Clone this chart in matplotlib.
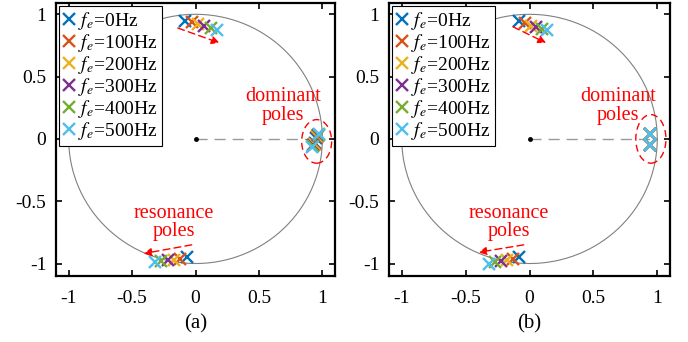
import matplotlib
matplotlib.use('Agg')
import matplotlib.pyplot as plt
from matplotlib.patches import Ellipse
import numpy as np

plt.rcParams['font.family'] = ['Liberation Serif', 'DejaVu Serif']
plt.rcParams['mathtext.fontset'] = 'stix'

labels = ['$f_e$=0Hz', '$f_e$=100Hz', '$f_e$=200Hz', '$f_e$=300Hz', '$f_e$=400Hz', '$f_e$=500Hz']
colors = ['#0072BD', '#D95319', '#EDB120', '#7E2F8E', '#77AC30', '#4DBEEE']

# panel (a) poles
a_up_re = [-0.08, -0.03, 0.02, 0.07, 0.12, 0.17]
a_up_im = [0.95, 0.94, 0.92, 0.91, 0.89, 0.87]
a_lo_re = [-0.07, -0.12, -0.17, -0.22, -0.27, -0.32]
a_lo_im = [-0.95, -0.96, -0.97, -0.97, -0.98, -0.99]
a_d1_re = [0.950, 0.955, 0.960, 0.965, 0.970, 0.975]
a_d1_im = [0.010, 0.016, 0.022, 0.028, 0.034, 0.040]
a_d2_re = [0.945, 0.940, 0.935, 0.930, 0.925, 0.920]
a_d2_im = [-0.030, -0.037, -0.044, -0.051, -0.058, -0.065]

# panel (b) poles
b_up_re = [-0.08, -0.035, 0.01, 0.05, 0.10, 0.14]
b_up_im = [0.95, 0.93, 0.91, 0.90, 0.88, 0.87]
b_lo_re = [-0.08, -0.13, -0.18, -0.22, -0.27, -0.32]
b_lo_im = [-0.95, -0.96, -0.97, -0.98, -0.99, -1.00]
b_d1_re = [0.945, 0.945, 0.945, 0.945, 0.945, 0.945]
b_d1_im = [0.04, 0.04, 0.04, 0.04, 0.04, 0.04]
b_d2_re = [0.945, 0.945, 0.945, 0.945, 0.945, 0.945]
b_d2_im = [-0.05, -0.05, -0.05, -0.05, -0.05, -0.05]

panels = [
    dict(pos=[0.0814, 0.193, 0.4056, 0.798], cap='(a)',
         up=(a_up_re, a_up_im), lo=(a_lo_re, a_lo_im), d1=(a_d1_re, a_d1_im), d2=(a_d2_re, a_d2_im),
         ell=(0.955, -0.02, 0.236, 0.35),
         arr_up=((-0.14, 0.89), (0.19, 0.77)), arr_lo=((-0.03, -0.85), (-0.41, -0.92)),
         dom=(0.69, 0.265), res=(-0.17, -0.67)),
    dict(pos=[0.5654, 0.193, 0.4085, 0.798], cap='(b)',
         up=(b_up_re, b_up_im), lo=(b_lo_re, b_lo_im), d1=(b_d1_re, b_d1_im), d2=(b_d2_re, b_d2_im),
         ell=(0.95, 0.0, 0.236, 0.39),
         arr_up=((-0.13, 0.90), (0.13, 0.77)), arr_lo=((-0.045, -0.85), (-0.40, -0.91)),
         dom=(0.69, 0.265), res=(-0.165, -0.67)),
]

fig = plt.figure(figsize=(6.88, 3.42), dpi=100)

for p in panels:
    ax = fig.add_axes(p['pos'])
    th = np.linspace(0, 2 * np.pi, 400)
    ax.plot(np.cos(th), np.sin(th), color='#808080', lw=0.8, zorder=1)
    ax.plot([0, 1], [0, 0], color='#999999', lw=1.0, ls=(0, (8, 5)), zorder=1)
    ax.plot(0, 0, 'o', color='k', ms=2.5, zorder=2)

    for i in range(6):
        kw = dict(marker='x', ls='none', ms=9, mew=1.7, color=colors[i], zorder=3)
        ax.plot(p['up'][0][i], p['up'][1][i], label=labels[i], **kw)
        ax.plot(p['lo'][0][i], p['lo'][1][i], **kw)
        ax.plot(p['d1'][0][i], p['d1'][1][i], **kw)
        ax.plot(p['d2'][0][i], p['d2'][1][i], **kw)

    ex, ey, ew, eh = p['ell']
    ax.add_patch(Ellipse((ex, ey), ew, eh, fill=False, ec='red', ls=(0, (5, 3)), lw=1.0, zorder=4))

    for s, e in [p['arr_up'], p['arr_lo']]:
        ax.annotate('', xy=e, xytext=s,
                    arrowprops=dict(arrowstyle='-|>', color='red', lw=1.0, ls=(0, (5, 3)),
                                    mutation_scale=12, shrinkA=0, shrinkB=0))

    ax.text(p['dom'][0], p['dom'][1], 'dominant\npoles', color='red', fontsize=14.5,
            ha='center', va='center', linespacing=0.95)
    ax.text(p['res'][0], p['res'][1], 'resonance\npoles', color='red', fontsize=14.5,
            ha='center', va='center', linespacing=0.95)

    ax.set_xlim(-1.1, 1.1)
    ax.set_ylim(-1.1, 1.09)
    ax.set_xticks([-1, -0.5, 0, 0.5, 1])
    ax.set_yticks([-1, -0.5, 0, 0.5, 1])
    ax.set_xticklabels(['-1', '-0.5', '0', '0.5', '1'])
    ax.set_yticklabels(['-1', '-0.5', '0', '0.5', '1'])
    ax.tick_params(axis='both', direction='in', top=True, right=True, labelsize=14, length=4, width=1.2)
    ax.tick_params(axis='x', pad=10)
    ax.tick_params(axis='y', pad=7)
    for sp in ax.spines.values():
        sp.set_linewidth(1.6)
    ax.set_xlabel(p['cap'], fontsize=15, labelpad=5)

    leg = ax.legend(loc='upper left', fontsize=14, handlelength=0.6, handletextpad=0.2,
                    borderpad=0.2, labelspacing=0.0, borderaxespad=0.15, fancybox=False,
                    framealpha=1, edgecolor='k')
    leg.get_frame().set_linewidth(0.8)

plt.savefig('out.png', dpi=100)
